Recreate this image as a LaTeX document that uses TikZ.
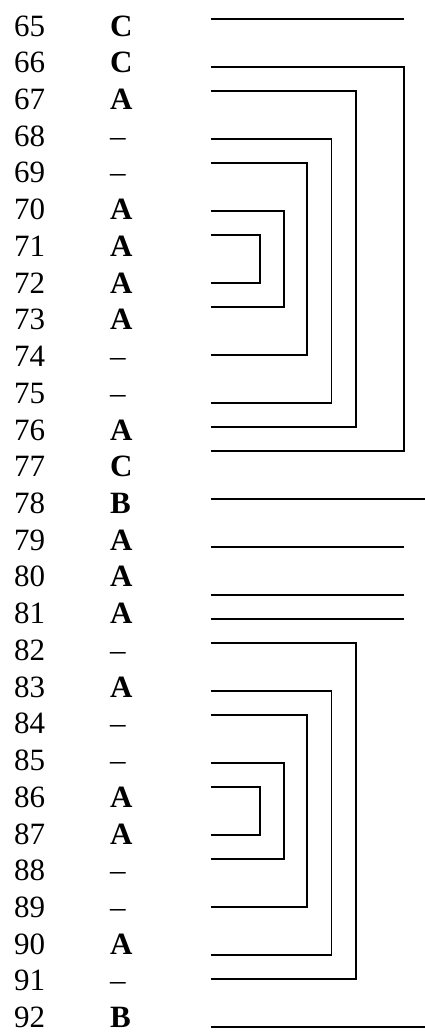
\documentclass[tikz,border=0pt]{standalone}
\usepackage{fontspec}
\setmainfont{Liberation Serif}
\usetikzlibrary{positioning}
\newcommand{\nopair}{{\mdseries\textendash}}

\begin{document}
\begin{tikzpicture}[
  x=1pt, y=-1pt,
  font=\fontsize{31}{37}\selectfont,
  idx/.style={anchor=base west, inner sep=0pt},
  res/.style={anchor=base west, inner sep=0pt, font=\fontsize{31}{37}\selectfont\bfseries},
  link/.style={line width=1.8pt, line join=miter}
]
  \useasboundingbox (0,0) rectangle (425,1036);

  % position numbers and residue labels
  \foreach \s [count=\i from 65] in {C,C,A,\nopair,\nopair,A,A,A,A,\nopair,\nopair,A,C,B,
                                     A,A,A,\nopair,A,\nopair,\nopair,A,A,\nopair,\nopair,A,\nopair,B} {
    \node[idx] (num\i) at (14, {36+36.73*(\i-65)}) {\i};
    \node[res] (res\i) at (110, {36+36.73*(\i-65)}) {\s};
  }

  % left ends of the links
  \foreach \n in {0,...,42}
    \coordinate (L\n) at (211, {19.3+24*\n});

  % single strokes
  \draw[link] (L0) -- ++(193,0);
  \draw[link] (L20) -- ++(214,0);
  \draw[link] (L22) -- ++(193,0);
  \draw[link] (L24) -- ++(193,0);
  \draw[link] (L25) -- ++(193,0);
  \draw[link] (L42) -- ++(214,0);

  % upper nest
  \draw[link] (L2) -- ++(193,0) |- (L18);
  \draw[link] (L3) -- ++(145,0) |- (L17);
  \draw[link] (L5) -- ++(120.5,0) |- (L16);
  \draw[link] (L6) -- ++(96.3,0) |- (L14);
  \draw[link] (L8) -- ++(72.7,0) |- (L12);
  \draw[link] (L9) -- ++(48.7,0) |- (L11);

  % lower nest
  \draw[link] (L26) -- ++(145,0) |- (L40);
  \draw[link] (L28) -- ++(120.5,0) |- (L39);
  \draw[link] (L29) -- ++(96.3,0) |- (L37);
  \draw[link] (L31) -- ++(72.7,0) |- (L35);
  \draw[link] (L32) -- ++(48.7,0) |- (L34);
\end{tikzpicture}
\end{document}
